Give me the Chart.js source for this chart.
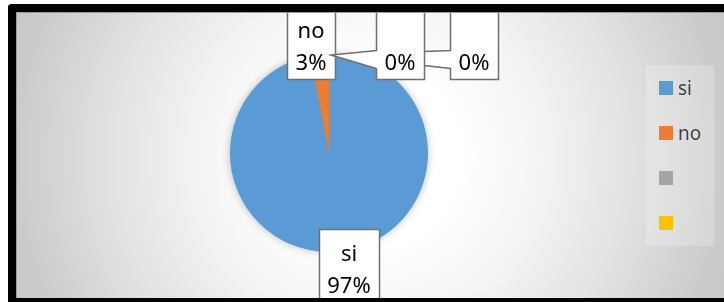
<!DOCTYPE html>
<html>
<head>
<meta charset="utf-8">
<script src="https://cdn.jsdelivr.net/npm/chart.js@4.4.1/dist/chart.umd.min.js"></script>
<style>
  html, body { margin: 0; padding: 0; overflow: hidden; background: #fff; width: 724px; height: 302px; }
  #bg {
    position: absolute; left: 16px; top: 12px; width: 708px; height: 286px;
    background: radial-gradient(circle at 354px 145px, #ffffff 90px, #f4f4f4 170px, #e0e0e0 270px, #cbcbcb 354px, #c4c4c4 420px);
  }
  #myChart { position: absolute; left: 0; top: 0; }
  #frame {
    position: absolute; left: 8px; top: 4px; width: 708px; height: 286px;
    border-top: 8px solid #000; border-left: 8px solid #000; border-bottom: 8px solid #000;
    border-top-left-radius: 4px; border-bottom-left-radius: 4px; pointer-events: none;
    box-shadow: inset 1px 1px 0 #9a9a9a;
  }
</style>
</head>
<body>
<div id="bg"></div>
<canvas id="myChart" width="724" height="302"></canvas>
<div id="frame"></div>
<script>
const categories = ['si', 'no', '', ''];
const values = [97, 3, 0, 0];
const sliceColors = ['#5B9BD5', '#ED7D31', '#A5A5A5', '#FFC000'];

// where each callout box sits, as offset of its centre from the pie centre
const labelSpots = [
  { dx: 20, dy: 112 },
  { dx: -18, dy: -111 },
  { dx: 71, dy: -111 },
  { dx: 145, dy: -111 }
];
const labelFont = '22px "Noto Sans"';

const pieShadow = {
  id: 'pieShadow',
  beforeDatasetsDraw(chart) {
    const arc = chart.getDatasetMeta(0).data[0];
    if (!arc) return;
    const ctx = chart.ctx;
    ctx.save();
    ctx.shadowColor = 'rgba(0,0,0,0.28)';
    ctx.shadowBlur = 9;
    ctx.fillStyle = sliceColors[0];
    ctx.beginPath();
    ctx.arc(arc.x, arc.y, arc.outerRadius - 0.5, 0, Math.PI * 2);
    ctx.fill();
    ctx.restore();
  }
};

const calloutLabels = {
  id: 'calloutLabels',
  afterDraw(chart) {
    const ctx = chart.ctx;
    const meta = chart.getDatasetMeta(0);
    const data = chart.data.datasets[0].data;
    const total = data.reduce((a, b) => a + b, 0);
    const order = [0, 1, 3, 2];
    ctx.save();
    ctx.font = labelFont;
    order.forEach(i => {
      const arc = meta.data[i];
      const mid = (arc.startAngle + arc.endAngle) / 2;
      const ax = arc.x + Math.cos(mid) * arc.outerRadius;
      const ay = arc.y + Math.sin(mid) * arc.outerRadius;
      const lines = [chart.data.labels[i], Math.round(data[i] / total * 100) + '%'];
      const w = Math.round(Math.max(...lines.map(t => ctx.measureText(t).width)) + 17);
      const h = 73;
      const cx = arc.x + labelSpots[i].dx;
      const cy = arc.y + labelSpots[i].dy;
      const left = Math.round(cx - w / 2) + 0.5, top = Math.round(cy - h / 2) + 0.5;
      const right = left + w, bottom = top + h;

      ctx.beginPath();
      ctx.moveTo(left, top);
      ctx.lineTo(right, top);
      ctx.lineTo(right, bottom);
      ctx.lineTo(left, bottom);
      if (ax < left) {
        ctx.lineTo(left, top + 62);
        ctx.lineTo(ax + 2, ay + 1);
        ctx.lineTo(left, top + 44);
      }
      ctx.closePath();
      ctx.fillStyle = '#ffffff';
      ctx.fill();
      ctx.strokeStyle = '#6f6f6f';
      ctx.lineWidth = 1.5;
      ctx.stroke();

      ctx.fillStyle = '#000000';
      ctx.textAlign = 'center';
      ctx.textBaseline = 'alphabetic';
      ctx.fillText(lines[0], cx, top + 31);
      ctx.fillText(lines[1], cx, top + 63);
    });
    ctx.restore();
  }
};

const sideLegend = {
  id: 'sideLegend',
  afterDraw(chart) {
    const ctx = chart.ctx;
    ctx.save();
    ctx.fillStyle = 'rgba(255,255,255,0.22)';
    ctx.fillRect(646, 65, 68, 181);
    ctx.font = '19px "Noto Sans"';
    ctx.textBaseline = 'alphabetic';
    chart.data.labels.forEach((lab, i) => {
      const y = 81 + i * 45;
      ctx.fillStyle = chart.data.datasets[0].backgroundColor[i];
      ctx.fillRect(659, y, 14, 14);
      ctx.fillStyle = '#404040';
      ctx.fillText(lab, 678, y + 14);
    });
    ctx.restore();
  }
};

new Chart(document.getElementById('myChart'), {
  type: 'pie',
  data: {
    labels: categories,
    datasets: [{
      data: values,
      backgroundColor: sliceColors,
      borderWidth: 0
    }]
  },
  options: {
    responsive: false,
    animation: false,
    devicePixelRatio: 1,
    layout: { padding: { left: 230, right: 296, top: 54, bottom: 50 } },
    plugins: {
      legend: { display: false },
      tooltip: { enabled: false }
    }
  },
  plugins: [pieShadow, calloutLabels, sideLegend]
});
</script>
</body>
</html>
